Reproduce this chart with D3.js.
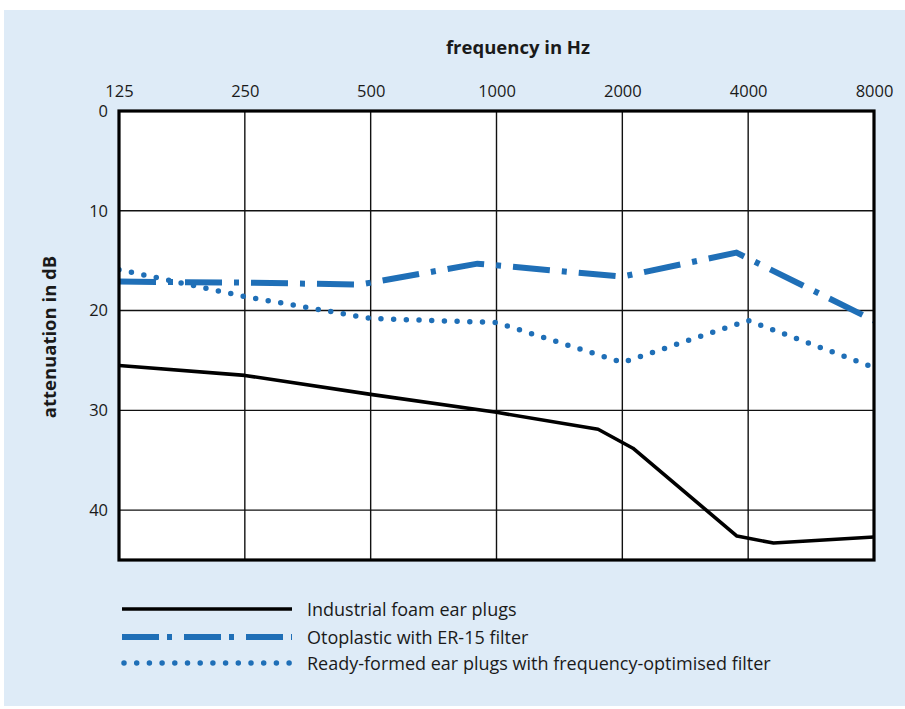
<!DOCTYPE html>
<html>
<head>
<meta charset="utf-8">
<script src="https://cdn.jsdelivr.net/npm/d3@7"></script>
<style>
  html, body { margin: 0; padding: 0; background: #ffffff; }
  svg { display: block; }
  text { font-family: "Open Sans", "Noto Sans", sans-serif; fill: #1a1a1a; }
</style>
</head>
<body>
<svg id="chart" width="905" height="709"></svg>
<script>
// ---- data ----
const freqTicks = [125, 250, 500, 1000, 2000, 4000, 8000];
const freqTickLabels = ["125", "250", "500", "1000", "2000", "4000", "8000"];
const dbTicks = [0, 10, 20, 30, 40];

const foamFreq = [125, 250, 500, 1000, 1750, 2120, 3760, 4600, 8000];
const foamDb   = [25.5, 26.5, 28.4, 30.2, 31.9, 33.8, 42.6, 43.3, 42.7];

const otoFreq = [125, 250, 470, 900, 2000, 3750, 8000];
const otoDb   = [17.1, 17.2, 17.4, 15.3, 16.6, 14.2, 21.0];

const readyFreq = [125, 250, 500, 1000, 2000, 4000, 8000];
const readyDb   = [15.9, 18.6, 20.8, 21.2, 25.2, 21.0, 25.7];

const seriesNames = [
  "Industrial foam ear plugs",
  "Otoplastic with ER-15 filter",
  "Ready-formed ear plugs with frequency-optimised filter"
];

// ---- layout ----
const svg = d3.select("#chart");
const blue = "#1f6fb7";
const plot = { left: 119, top: 111, right: 874, bottom: 560 };

svg.append("rect").attr("x", 4).attr("y", 10).attr("width", 901).attr("height", 696)
  .attr("fill", "#deebf7");

const x = d3.scaleLog().base(2).domain([125, 8000]).range([plot.left, plot.right]);
const y = d3.scaleLinear().domain([0, 45]).range([plot.top, plot.bottom]);

svg.append("rect").attr("x", plot.left).attr("y", plot.top)
  .attr("width", plot.right - plot.left).attr("height", plot.bottom - plot.top)
  .attr("fill", "#ffffff");

// grid
const grid = svg.append("g");
grid.selectAll("line.v").data(freqTicks.slice(1, -1)).join("line")
  .attr("x1", d => x(d)).attr("x2", d => x(d))
  .attr("y1", plot.top).attr("y2", plot.bottom)
  .attr("stroke", "#111").attr("stroke-width", 1.4);
grid.selectAll("line.h").data(dbTicks.slice(1)).join("line")
  .attr("x1", plot.left).attr("x2", plot.right)
  .attr("y1", d => y(d)).attr("y2", d => y(d))
  .attr("stroke", "#111").attr("stroke-width", 1.4);

// axes labels via d3 axes
const xAxis = d3.axisTop(x).tickValues(freqTicks).tickFormat((d, i) => freqTickLabels[i]).tickSize(0).tickPadding(14);
const gx = svg.append("g").attr("transform", `translate(0,${plot.top})`).call(xAxis);
gx.select(".domain").remove();
gx.selectAll("text").style("font-size", "16.5px").style("font-family", "'Open Sans', sans-serif").attr("fill", "#1a1a1a");

const yAxis = d3.axisLeft(y).tickValues(dbTicks).tickSize(0).tickPadding(11);
const gy = svg.append("g").attr("transform", `translate(${plot.left},0)`).call(yAxis);
gy.select(".domain").remove();
gy.selectAll("text").style("font-size", "16.5px").style("font-family", "'Open Sans', sans-serif").attr("fill", "#1a1a1a");

// series
const line = d3.line().x(d => x(d[0])).y(d => y(d[1]));
const clip = svg.append("clipPath").attr("id", "pc").append("rect")
  .attr("x", plot.left).attr("y", plot.top).attr("width", plot.right - plot.left).attr("height", plot.bottom - plot.top);
const gs = svg.append("g").attr("clip-path", "url(#pc)");

gs.append("path").datum(readyFreq.map((f, i) => [f, readyDb[i]]))
  .attr("d", line).attr("fill", "none").attr("stroke", blue)
  .attr("stroke-width", 5.5).attr("stroke-linecap", "round").attr("stroke-dasharray", "0 12.7");
gs.append("path").datum(otoFreq.map((f, i) => [f, otoDb[i]]))
  .attr("d", line).attr("fill", "none").attr("stroke", blue)
  .attr("stroke-width", 6).attr("stroke-dasharray", "37 12 5 12");
gs.append("path").datum(foamFreq.map((f, i) => [f, foamDb[i]]))
  .attr("d", line).attr("fill", "none").attr("stroke", "#000")
  .attr("stroke-width", 3.6).attr("stroke-linejoin", "round");

// frame
svg.append("rect").attr("x", plot.left).attr("y", plot.top)
  .attr("width", plot.right - plot.left).attr("height", plot.bottom - plot.top)
  .attr("fill", "none").attr("stroke", "#000").attr("stroke-width", 3.2);

// titles
svg.append("text").attr("x", 518).attr("y", 54).attr("text-anchor", "middle")
  .style("font-size", "18.5px").style("font-weight", "bold").text("frequency in Hz");
svg.append("text").attr("transform", "translate(56,337) rotate(-90)").attr("text-anchor", "middle")
  .style("font-size", "18.5px").style("font-weight", "bold").text("attenuation in dB");

// legend
const legY = [609, 637, 663];
const leg = svg.append("g");
leg.append("line").attr("x1", 122).attr("x2", 292).attr("y1", legY[0]).attr("y2", legY[0])
  .attr("stroke", "#000").attr("stroke-width", 3.6);
leg.append("line").attr("x1", 122).attr("x2", 292).attr("y1", legY[1]).attr("y2", legY[1])
  .attr("stroke", blue).attr("stroke-width", 6).attr("stroke-dasharray", "37 8 5 12");
leg.append("line").attr("x1", 124).attr("x2", 292).attr("y1", legY[2]).attr("y2", legY[2])
  .attr("stroke", blue).attr("stroke-width", 5.5).attr("stroke-linecap", "round").attr("stroke-dasharray", "0 12.7");
leg.selectAll("text").data(seriesNames).join("text")
  .attr("x", 307).attr("y", (d, i) => legY[i] + 6.5)
  .style("font-size", "18px").text(d => d);
</script>
</body>
</html>
